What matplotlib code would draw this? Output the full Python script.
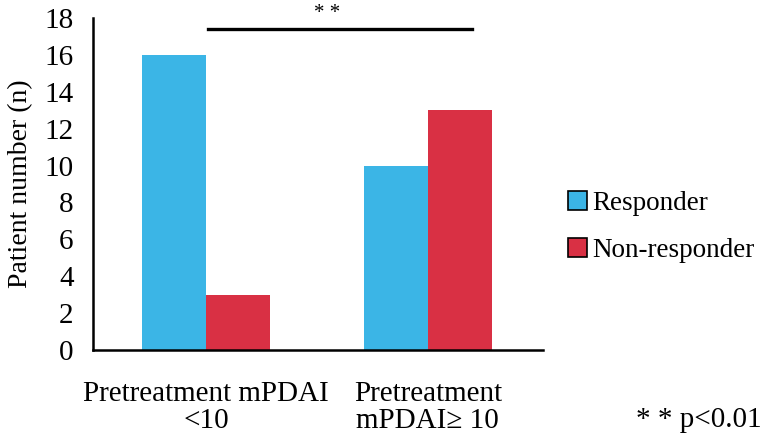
import numpy as np
import matplotlib.pyplot as plt
from matplotlib.patches import Patch

groups = ["Pretreatment mPDAI\n<10", "Pretreatment\nmPDAI\u2265 10"]
responder = [16, 10]
non_responder = [3, 13]
series_names = ["Responder", "Non-responder"]
colors = ["#3BB5E6", "#D93044"]

plt.rcParams["font.family"] = ["Liberation Serif", "DejaVu Serif"]
fs = 21

fig = plt.figure(figsize=(7.63, 4.38), dpi=100)
ax = fig.add_axes([0.1219, 0.2009, 0.59, 0.758])

x = np.arange(len(groups))
w = 0.288
ax.bar(x - w / 2, responder, w, color=colors[0])
ax.bar(x + w / 2, non_responder, w, color=colors[1])

ax.set_xlim(-0.51, 1.52)
ax.set_ylim(0, 18)
ax.set_yticks(np.arange(0, 19, 2))
ax.set_xticks(x)
ax.set_xticklabels(groups, fontsize=fs, linespacing=1.05)
ax.tick_params(axis="both", length=0, labelsize=fs)
ax.tick_params(axis="x", pad=22)
ax.tick_params(axis="y", pad=14)
ax.set_ylabel("Patient number (n)", fontsize=20, labelpad=8)

for s in ["top", "right"]:
    ax.spines[s].set_visible(False)
for s in ["left", "bottom"]:
    ax.spines[s].set_linewidth(1.8)

# significance bar
ax.plot([0.01, 1.2], [17.4, 17.4], color="black", lw=2.4, clip_on=False)
ax.text(0.545, 17.75, "* *", ha="center", va="bottom", fontsize=15, clip_on=False)

handles = [Patch(facecolor=c, edgecolor="black", linewidth=1.2) for c in colors]
ax.legend(handles, series_names, loc="center left", bbox_to_anchor=(1.0, 0.37),
          frameon=False, fontsize=19.5, handlelength=0.7, handleheight=0.7,
          handletextpad=0.2, labelspacing=0.8)

fig.text(0.998, 0.012, "* * p<0.01", ha="right", va="bottom", fontsize=fs)

fig.savefig("out.png", dpi=100)
